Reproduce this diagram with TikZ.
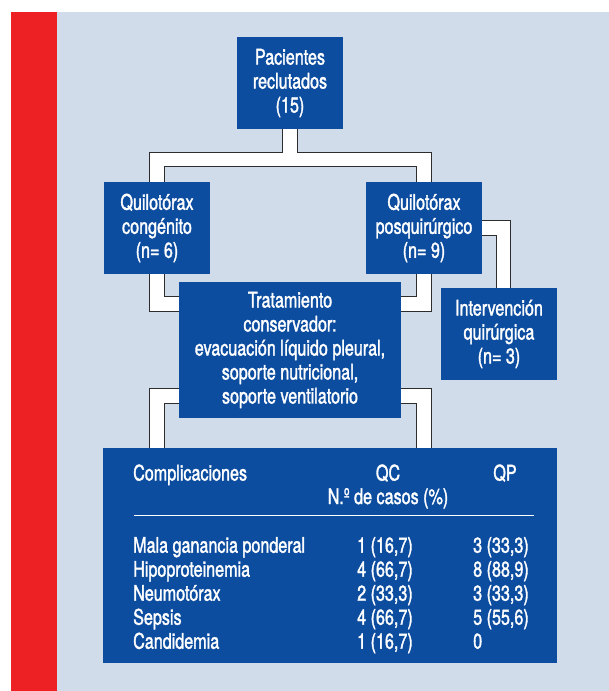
\documentclass[tikz,border=0pt]{standalone}
\usepackage{fontspec}
\setmainfont{TeX Gyre Heros}[FakeStretch=0.75,FakeBold=1.5]
\usetikzlibrary{backgrounds}
\definecolor{azulcaja}{RGB}{13,77,160}
\definecolor{fondo}{RGB}{208,220,234}
\definecolor{rojo}{RGB}{237,33,36}
\definecolor{borde}{RGB}{45,45,45}
\tikzset{
  caja/.style={fill=azulcaja, text=white, align=center, inner sep=0pt, font=\fontsize{21.5}{24}\selectfont},
  tuboborde/.style={draw=borde, line width=15.5pt},
  tuborelleno/.style={draw=white, line width=13.5pt},
  dato/.style={text=white, anchor=base west, inner sep=0pt, font=\fontsize{21.5}{24}\selectfont}
}
\begin{document}
\begin{tikzpicture}[x=1pt,y=-1pt]
    \useasboundingbox (0,0) rectangle (609,691);
    \node[caja, minimum width=106pt, minimum height=92pt] (pac) at (290,83) {Pacientes\\reclutados\\(15)};
    \node[caja, minimum width=106pt, minimum height=92pt] (cong) at (157,228) {Quilotórax\\congénito\\(n= 6)};
    \node[caja, minimum width=116pt, minimum height=92pt] (posq) at (424,228) {Quilotórax\\posquirúrgico\\(n= 9)};
    \node[caja, minimum width=222pt, minimum height=136pt] (trat) at (290,350) {Tratamiento\\conservador:\\evacuación líquido pleural,\\soporte nutricional,\\soporte ventilatorio};
    \node[caja, minimum width=116pt, minimum height=92pt] (interv) at (499,334) {Intervención\\quirúrgica\\(n= 3)};
    \node[caja, minimum width=454pt, minimum height=215pt] (tab) at (330,555.5) {};
    % tabla de complicaciones
    \node[dato] (compl) at (133,480.5) {Complicaciones};
    \node[dato, anchor=base] (qc) at (388,480.5) {QC};
    \node[dato, anchor=base] (casos) at (388,504) {N.º de casos (\%)};
    \node[dato, anchor=base] (qp) at (505,480.5) {QP};
    \draw[white, line width=1pt] (134,515.7) -- (534,515.7);
    \foreach \nom/\vqc/\vqp [count=\i] in {Mala ganancia ponderal/{1 (16,7)}/{3 (33,3)}, Hipoproteinemia/{4 (66,7)}/{8 (88,9)}, Neumotórax/{2 (33,3)}/{3 (33,3)}, Sepsis/{4 (66,7)}/{5 (55,6)}, Candidemia/{1 (16,7)}/0}{
        \node[dato] (nom\i) at (133,528.7+24*\i) {\nom};
        \node[dato] (qc\i) at (357,528.7+24*\i) {\vqc};
        \node[dato] (qp\i) at (473,528.7+24*\i) {\vqp};
    }
    \begin{scope}[on background layer]
        \fill[fondo] (10.5,12) rectangle (609,691);
        \fill[rojo] (10.5,12) rectangle (57,691);
        \foreach \capa in {tuboborde,tuborelleno}{
            \draw[\capa] (pac.south) -- ++(0,30.5) -| (cong.north);
            \draw[\capa] (pac.south) -- ++(0,30.5) -| (posq.north);
            \draw[\capa] (cong.south) |- ([yshift=-22pt]trat.north west);
            \draw[\capa] (posq.south) |- ([yshift=-22pt]trat.north east);
            \draw[\capa] (posq.east) -| ([xshift=4.5pt]interv.north);
            \draw[\capa] ([yshift=22pt]trat.south west) -| (cong.south |- tab.north);
            \draw[\capa] ([yshift=22pt]trat.south east) -| (posq.south |- tab.north);
        }
    \end{scope}
\end{tikzpicture}
\end{document}
